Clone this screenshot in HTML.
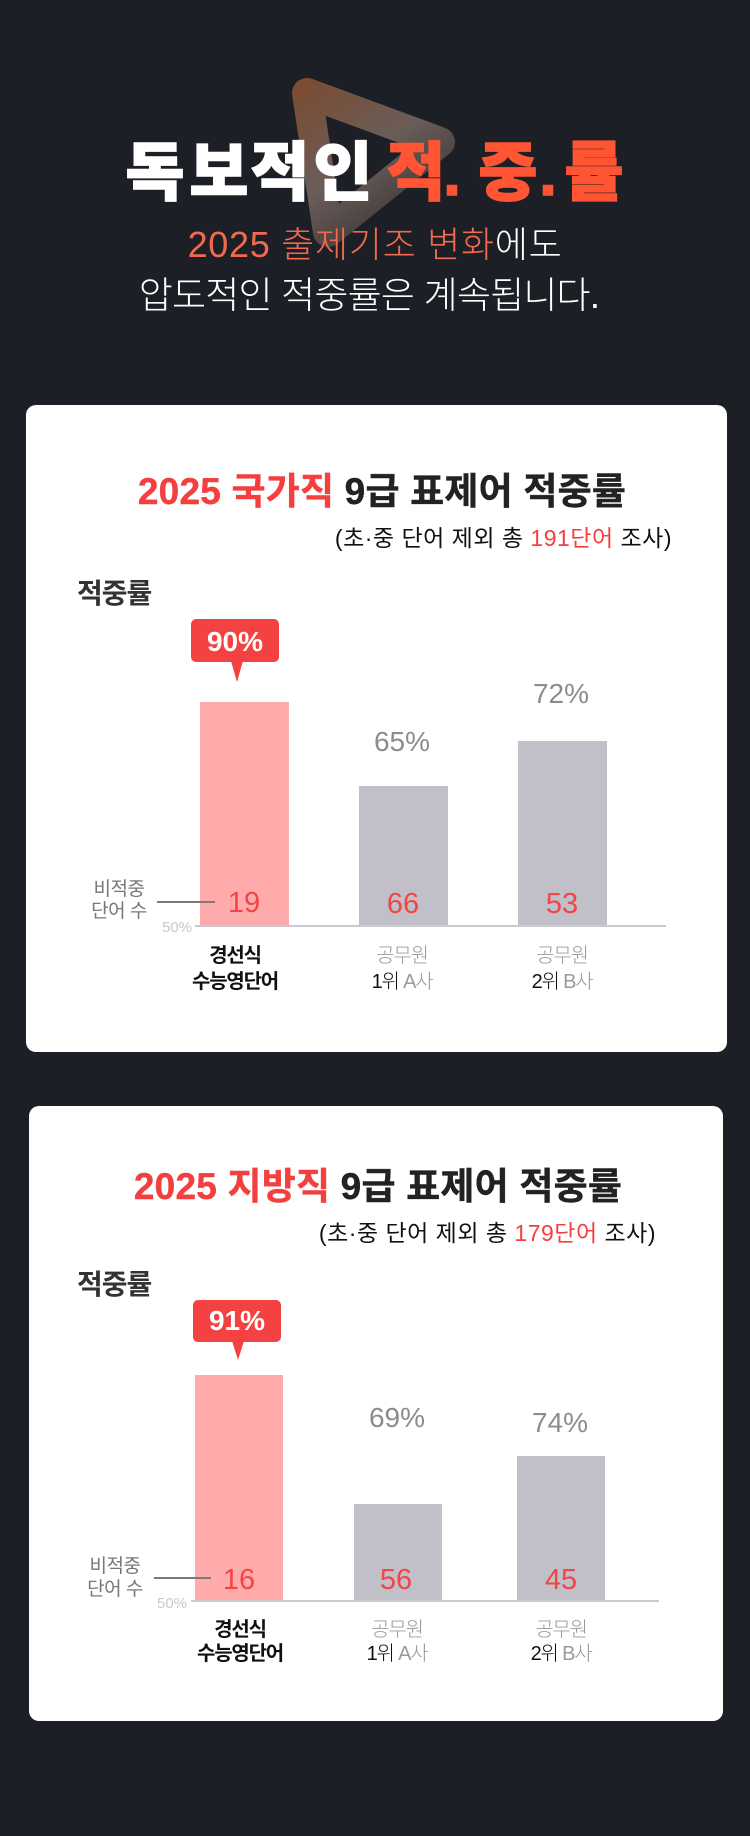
<!DOCTYPE html>
<html><head><meta charset="utf-8">
<style>
*{margin:0;padding:0;box-sizing:border-box}
html,body{width:750px;height:1836px;background:#1d1f26;overflow:hidden}
body{position:relative;font-family:"Liberation Sans","Noto Sans CJK KR",sans-serif}
.t{position:absolute;white-space:nowrap;line-height:1}
.c{transform:translateX(-50%)}
.h{position:absolute;top:141px;width:80px;margin-left:-40px;text-align:center;font-size:64px;font-weight:900;line-height:1;color:#fff;white-space:nowrap;-webkit-text-stroke:1.5px #fff}
.r{color:#ff5533;-webkit-text-stroke:1.5px #ff5533}
.card{position:absolute;background:#fff;border-radius:10px}
.bar{position:absolute}
.pink{background:#ffabab}
.gray{background:#c1bfc8}
.title{font-size:37px;font-weight:700;color:#222;letter-spacing:0.2px;-webkit-text-stroke:0.4px #222}
.title .red{color:#f43f3f;-webkit-text-stroke:0.4px #f43f3f}
.sub{font-size:23px;color:#111;letter-spacing:0.5px}
.sub .red{color:#f43f3f}
.lab{font-size:28px;font-weight:700;color:#333;letter-spacing:-1px}
.badge{position:absolute;background:#f44242;border-radius:5px}
.tip{position:absolute;width:0;height:0;border-left:6px solid transparent;border-right:6px solid transparent;border-top:21px solid #f44242}
.bt{font-size:28px;font-weight:700;color:#fff}
.pct{font-size:28px;color:#8c8c8c;font-weight:300}
.num{font-size:29px;color:#f24545;font-weight:300}
.nl{font-size:19px;color:#777;letter-spacing:-0.5px}
.conn{position:absolute;height:2px;background:#7b7b7b}
.fifty{font-size:15px;color:#c8c8c8}
.base{position:absolute;height:2px;background:#cac8d2}
.cat{font-size:20px;letter-spacing:-1.2px;color:#9a9a9a;font-weight:300}
.cat.b{font-weight:700;color:#111}
.cat .k{color:#111}
</style></head><body>

<svg width="750" height="330" style="position:absolute;left:0;top:0">
  <defs>
    <linearGradient id="g" gradientUnits="userSpaceOnUse" x1="295" y1="75" x2="420" y2="250">
      <stop offset="0" stop-color="#7c4a2c"/>
      <stop offset="0.5" stop-color="#6a5d59"/>
      <stop offset="1" stop-color="#2c2a2c"/>
    </linearGradient>
  </defs>
  <polygon points="307,93 440,142 328,232" fill="none" stroke="url(#g)" stroke-width="30" stroke-linejoin="round"/>
</svg>

<div class="h" style="left:155px">독</div>
<div class="h" style="left:219px">보</div>
<div class="h" style="left:280px">적</div>
<div class="h" style="left:343px">인</div>
<div class="h r" style="left:416px">적</div>
<div class="h r" style="left:452px">.</div>
<div class="h r" style="left:508px">중</div>
<div class="h r" style="left:548px">.</div>
<div class="h r" style="left:594px">률</div>

<div class="t c" style="left:375px;top:227px;font-size:36px;letter-spacing:0.7px;font-weight:300;color:#fff"><span style="color:#f26a4e">2025 출제기조 변화</span>에도</div>
<div class="t c" style="left:369px;top:277px;font-size:37px;letter-spacing:-0.8px;font-weight:300;color:#fff">압도적인 적중률은 계속됩니다.</div>

<!-- Card 1 -->
<div class="card" style="left:26px;top:405px;width:701px;height:647px"></div>
<div class="t c title" style="left:382px;top:473px"><span class="red">2025 국가직</span> 9급 표제어 적중률</div>
<div class="t sub" style="right:78px;top:527px">(초·중 단어 제외 총 <span class="red">191단어</span> 조사)</div>
<div class="t lab" style="left:77px;top:580px">적중률</div>

<div class="badge" style="left:191px;top:619px;width:88px;height:43px"></div>
<div class="tip" style="left:231px;top:661px"></div>
<div class="t c bt" style="left:235px;top:628px">90%</div>

<div class="bar pink" style="left:200px;top:702px;width:89px;height:223px"></div>
<div class="bar gray" style="left:359px;top:786px;width:89px;height:139px"></div>
<div class="bar gray" style="left:518px;top:741px;width:89px;height:184px"></div>
<div class="base" style="left:195px;top:925px;width:471px"></div>

<div class="t c pct" style="left:402px;top:728px">65%</div>
<div class="t c pct" style="left:561px;top:680px">72%</div>

<div class="t c num" style="left:244px;top:889px">19</div>
<div class="t c num" style="left:403px;top:890px">66</div>
<div class="t c num" style="left:562px;top:890px">53</div>

<div class="t c nl" style="left:119px;top:880px">비적중</div>
<div class="t c nl" style="left:119px;top:902px">단어 수</div>
<div class="conn" style="left:157px;top:901px;width:58px"></div>
<div class="t c fifty" style="left:177px;top:920px">50%</div>

<div class="t c cat b" style="left:235px;top:946px">경선식</div>
<div class="t c cat b" style="left:235px;top:972px">수능영단어</div>
<div class="t c cat" style="left:402px;top:946px">공무원</div>
<div class="t c cat" style="left:402px;top:972px"><span class="k">1위</span> A사</div>
<div class="t c cat" style="left:562px;top:946px">공무원</div>
<div class="t c cat" style="left:562px;top:972px"><span class="k">2위</span> B사</div>

<!-- Card 2 -->
<div class="card" style="left:29px;top:1106px;width:694px;height:615px"></div>
<div class="t c title" style="left:378px;top:1168px"><span class="red">2025 지방직</span> 9급 표제어 적중률</div>
<div class="t sub" style="right:94px;top:1222px">(초·중 단어 제외 총 <span class="red">179단어</span> 조사)</div>
<div class="t lab" style="left:77px;top:1271px">적중률</div>

<div class="badge" style="left:193px;top:1300px;width:88px;height:42px"></div>
<div class="tip" style="left:232px;top:1341px;border-top-width:19px"></div>
<div class="t c bt" style="left:237px;top:1307px">91%</div>

<div class="bar pink" style="left:195px;top:1375px;width:88px;height:225px"></div>
<div class="bar gray" style="left:354px;top:1504px;width:88px;height:96px"></div>
<div class="bar gray" style="left:517px;top:1456px;width:88px;height:144px"></div>
<div class="base" style="left:191px;top:1600px;width:468px"></div>

<div class="t c pct" style="left:397px;top:1404px">69%</div>
<div class="t c pct" style="left:560px;top:1409px">74%</div>

<div class="t c num" style="left:239px;top:1566px">16</div>
<div class="t c num" style="left:396px;top:1566px">56</div>
<div class="t c num" style="left:561px;top:1566px">45</div>

<div class="t c nl" style="left:115px;top:1557px">비적중</div>
<div class="t c nl" style="left:115px;top:1580px">단어 수</div>
<div class="conn" style="left:154px;top:1577px;width:57px"></div>
<div class="t c fifty" style="left:172px;top:1596px">50%</div>

<div class="t c cat b" style="left:240px;top:1620px">경선식</div>
<div class="t c cat b" style="left:240px;top:1644px">수능영단어</div>
<div class="t c cat" style="left:397px;top:1620px">공무원</div>
<div class="t c cat" style="left:397px;top:1644px"><span class="k">1위</span> A사</div>
<div class="t c cat" style="left:561px;top:1620px">공무원</div>
<div class="t c cat" style="left:561px;top:1644px"><span class="k">2위</span> B사</div>

</body></html>
